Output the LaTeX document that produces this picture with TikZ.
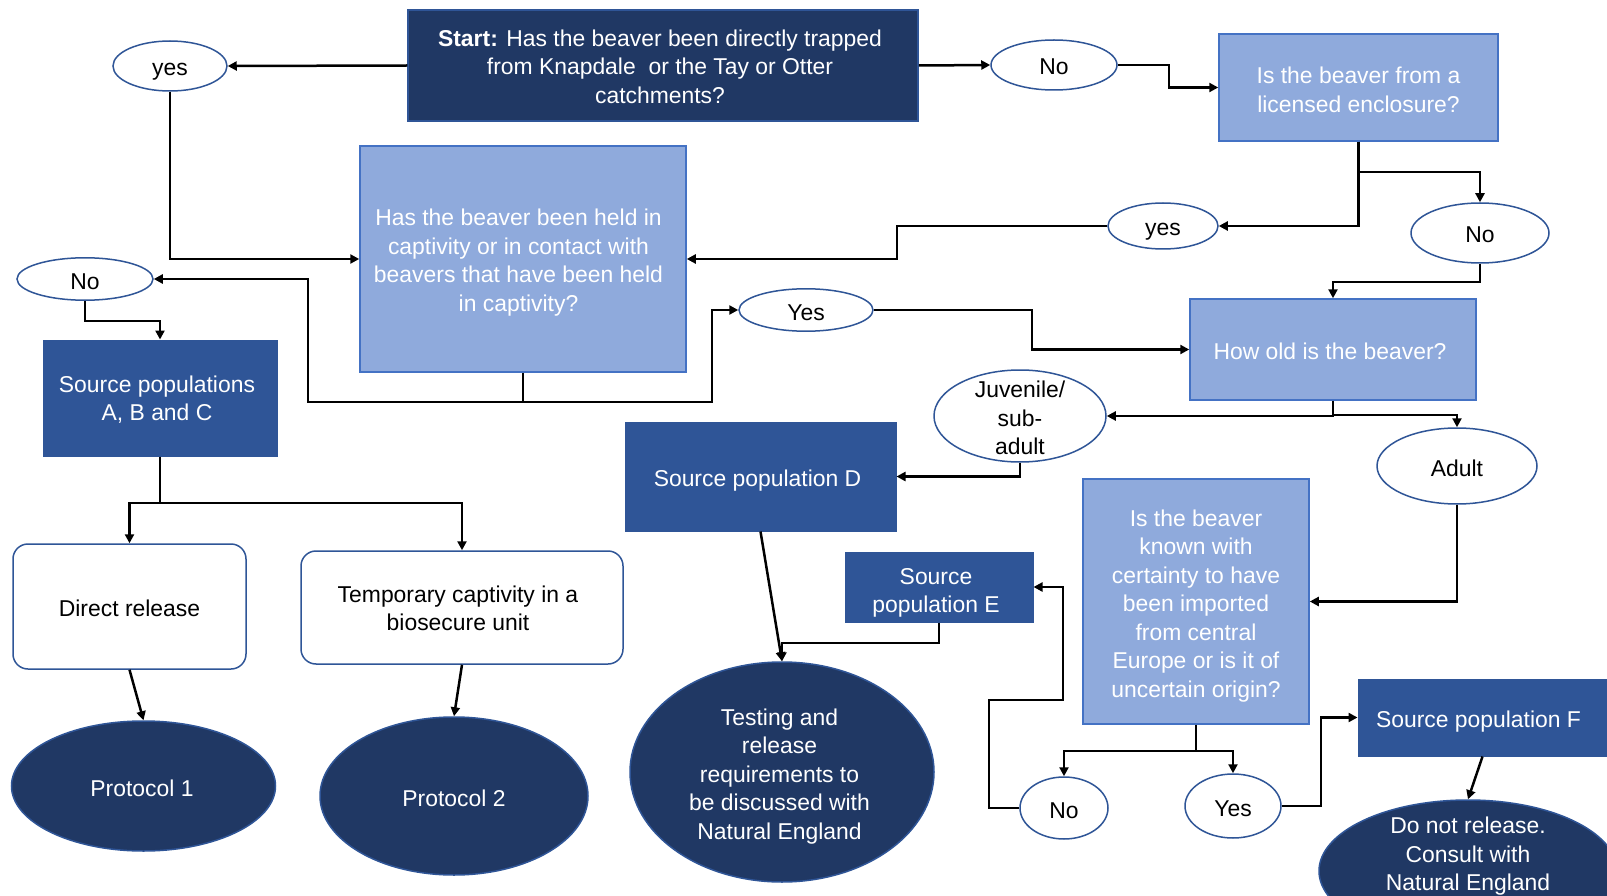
\documentclass[tikz,border=0pt]{standalone}
\usepackage{fontspec}
\setmainfont{Liberation Sans}
\usetikzlibrary{arrows.meta,shapes.geometric}
\definecolor{navy}{HTML}{203864}
\definecolor{midblue}{HTML}{2F5597}
\definecolor{lightblue}{HTML}{8FAADC}
\definecolor{edgeblue}{HTML}{4472C4}
\newcommand{\topstrut}{\rule{0pt}{25pt}}
\newcommand{\botstrut}{\rule[-5pt]{0pt}{5pt}}
\begin{document}
\begin{tikzpicture}[x=1pt,y=-1pt,
 every node/.style={font=\fontsize{22.9}{28.5}\selectfont, align=center, inner sep=0pt,
   execute at begin node=\topstrut, execute at end node=\botstrut},
 ml/.style={text depth=#1},
 tb/.style={text height=#1, text depth=0pt},
 tl/.style={execute at end node={\botstrut\hspace*{#1}}},
 qlight/.style={rectangle, fill=lightblue, draw=edgeblue, line width=1.5pt, text=white},
 qdark/.style={rectangle, fill=navy, draw=midblue, line width=1.5pt, text=white},
 src/.style={rectangle, fill=midblue, draw=midblue, line width=1pt, text=white},
 rbox/.style={rectangle, rounded corners=15pt, fill=white, draw=midblue, line width=1.5pt},
 ans/.style={ellipse, fill=white, draw=midblue, line width=1.5pt},
 term/.style={ellipse, fill=navy, draw=midblue, line width=1.5pt, text=white},
 conn/.style={line width=2.5pt, -{Triangle[length=9pt,width=9pt]}}
]
\useasboundingbox (0,0) rectangle (1607,896);
\clip (0,0) rectangle (1607,896);
\fill[white] (0,0) rectangle (1607,896);

% rectangles
\node[qdark, tb=75.7pt, tl=6pt, minimum width=510, minimum height=111] (start) at (663,65.5)
  {\textbf{Start:} Has the beaver been directly trapped\\from Knapdale\ \ or the Tay or Otter\\catchments?};
\node[qlight, tb=49.3pt, minimum width=279, minimum height=107] (lic) at (1358.5,87.5)
  {Is the beaver from a\\licensed enclosure?};
\node[qlight, tb=104.2pt, tl=9pt, minimum width=326, minimum height=226] (held) at (523,259)
  {Has the beaver been held in\\captivity or in contact with\\beavers that have been held\\in captivity?};
\node[src, ml=-3pt, tl=6pt, minimum width=234, minimum height=116] (abc) at (160,398)
  {Source populations\\A, B and C};
\node[qlight, tl=6pt, minimum width=286, minimum height=101] (age) at (1333,349.5)
  {How old is the beaver?};
\node[src, minimum width=271, minimum height=109] (D) at (760.5,476.5)
  {Source population D\hspace*{6pt}};
\node[src, tb=51.3pt, tl=6pt, minimum width=188, minimum height=70] (E) at (939,587)
  {Source\\population E};
\node[qlight, tb=191.8pt, minimum width=226, minimum height=245] (cert) at (1196,601.5)
  {Is the beaver\\known with\\certainty to have\\been imported\\from central\\Europe or is it of\\uncertain origin?};
\node[src, minimum width=249, minimum height=77] (F) at (1482.5,717.5)
  {Source population F\hspace*{8pt}};
\node[rbox, minimum width=233, minimum height=125] (dr) at (129.5,606.5)
  {Direct release};
\node[rbox, tb=46.9pt, tl=8pt, minimum width=322, minimum height=113] (tmp) at (462,607.5)
  {Temporary captivity in a\\biosecure unit};

% ellipses
\node[ans, minimum width=114, minimum height=50] (yes1) at (170,66) {yes};
\node[ans, minimum width=126, minimum height=50] (no1) at (1054,65) {No};
\node[ans, minimum width=110, minimum height=46] (yes2) at (1163,226) {yes};
\node[ans, minimum width=138, minimum height=60] (no2) at (1480,233) {No};
\node[ans, minimum width=136, minimum height=42] (noL) at (85,279) {No};
\node[ans, minimum width=134, minimum height=42] (yesM) at (806,310) {Yes};
\node[ans, minimum width=172, minimum height=92,
  label={[tb=77.8pt]center:{Juvenile/\\sub-\\adult}}] (juv) at (1020,416) {};
\node[ans, minimum width=160, minimum height=76] (adult) at (1457,466) {Adult};
\node[ans, minimum width=88, minimum height=62] (no3) at (1064,808) {No};
\node[ans, minimum width=96, minimum height=64] (yes3) at (1233,806) {Yes};
\node[term, tl=3pt, minimum width=264, minimum height=130] (p1) at (143.5,786) {Protocol 1};
\node[term, minimum width=268, minimum height=158] (p2) at (454,796) {Protocol 2};
\node[term, tb=134.8pt, tl=5pt, minimum width=304, minimum height=220] (test) at (782,772)
  {Testing and\\release\\requirements to\\be discussed with\\Natural England};
\node[term, minimum width=298, minimum height=142,
  label={[text=white, tb=75.7pt, yshift=18pt]center:{Do not release.\\Consult with\\Natural England}}] (dn) at (1468,871) {};

% connectors
\draw[conn] (start.west) -- (yes1.east);
\draw[conn] (start.east) -- (no1.west);
\draw[conn] (no1.east) -- (1169,65) |- (lic.west);
\draw[conn] (lic.south) -- (1358.5,172) -| (no2.north);
\draw[conn] (lic.south) |- (yes2.east);
\draw[conn] (yes2.west) -- (897,226) |- (held.east);
\draw[conn] (yes1.south) |- (held.west);
\draw[conn] (held.south) -- (523,402) -| (308,279) -- (noL.east);
\draw[conn] (held.south) -- (523,402) -| (712,310) -- (yesM.west);
\draw[conn] (noL.south) -- (85,321) -| (abc.north);
\draw[conn] (abc.south) -- (160,503) -| (dr.north);
\draw[conn] (abc.south) -- (160,503) -| (tmp.north);
\draw[conn] (dr.south) -- (p1.north);
\draw[conn] (tmp.south) -- (p2.north);
\draw[conn] (yesM.east) -- (1032,310) |- (age.west);
\draw[conn] (no2.south) -- (1480,282) -| (age.north);
\draw[conn] (age.south) |- (juv.east);
\draw[conn] (age.south) -- (1333,415) -| (adult.north);
\draw[conn] (juv.south) |- (D.east);
\draw[conn] (adult.south) |- (cert.east);
\draw[conn] (D.south) -- (test.north);
\draw[conn] (E.south) -- (939,643) -| (test.north);
\draw[conn] (cert.south) -- (1196,751) -| (no3.north);
\draw[conn] (cert.south) -- (1196,751) -| (yes3.north);
\draw[conn] (no3.west) -| (989,700) -| (1063,587) -- (E.east);
\draw[conn] (yes3.east) -| (1321,717.5) -- (F.west);
\draw[conn] (F.south) -- (dn.north);
\end{tikzpicture}
\end{document}
